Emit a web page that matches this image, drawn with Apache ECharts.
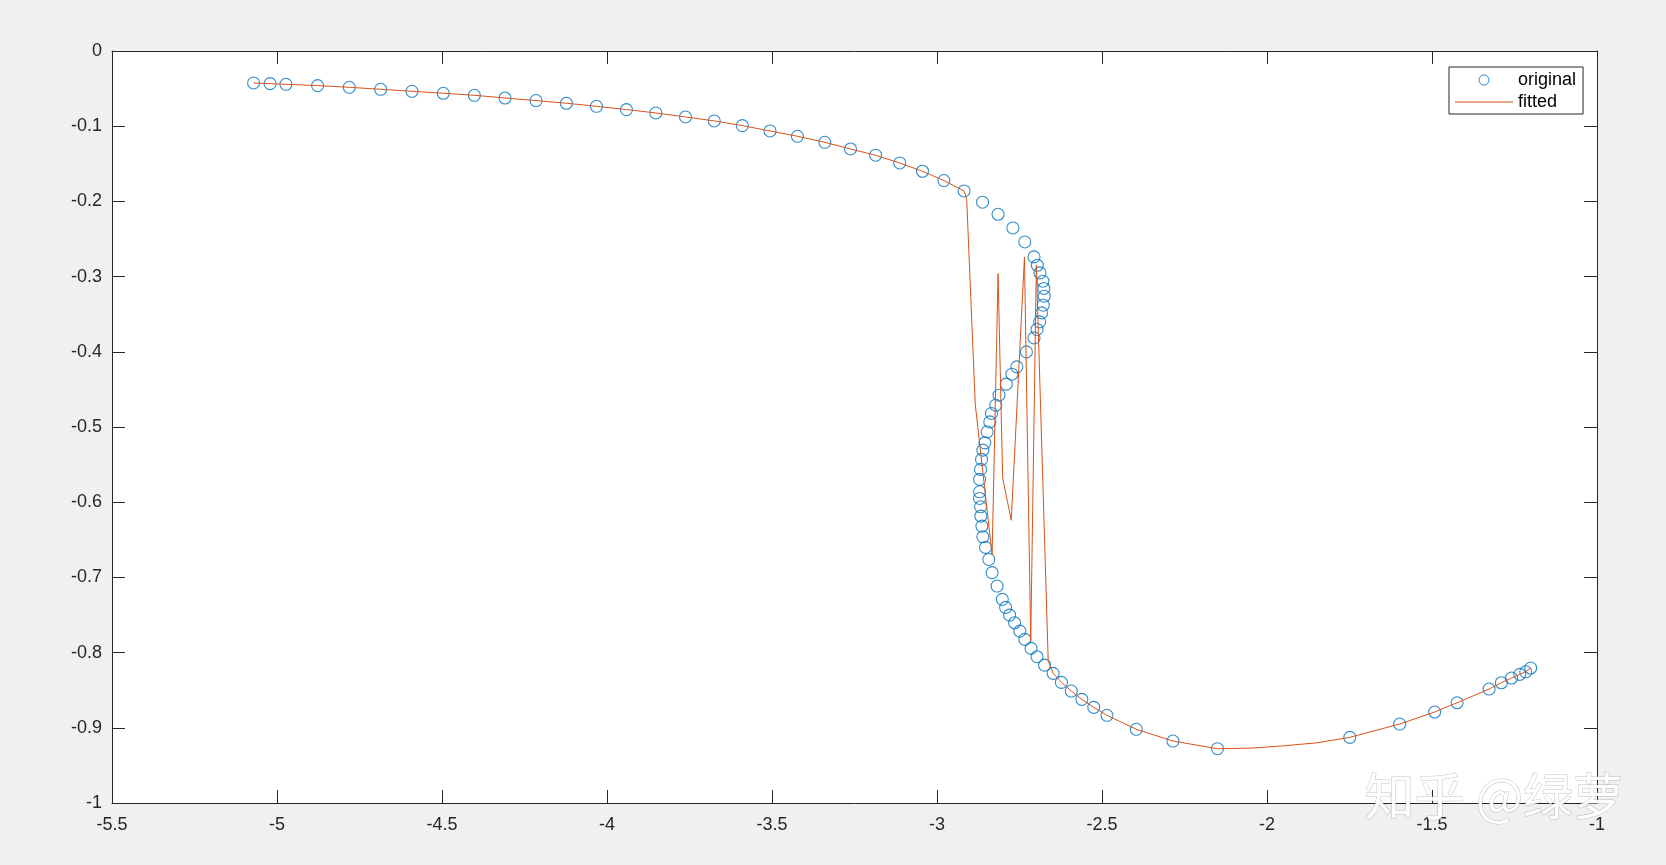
<!DOCTYPE html>
<html>
<head>
<meta charset="utf-8">
<script src="https://cdn.jsdelivr.net/npm/echarts@6/dist/echarts.min.js"></script>
<style>
  html, body { margin: 0; padding: 0; background: #f0f0f0; }
  #main { width: 1666px; height: 865px; }
</style>
</head>
<body>
<div id="main"></div>
<script>
// original points (in the order they were measured along the curve)
var origX = [-5.071, -5.021, -4.973, -4.877, -4.781, -4.686, -4.591, -4.496, -4.402, -4.309,
  -4.215, -4.123, -4.032, -3.941, -3.852, -3.762, -3.675, -3.590, -3.506, -3.423,
  -3.340, -3.262, -3.186, -3.113, -3.044, -2.979, -2.918, -2.862, -2.815, -2.770,
  -2.734, -2.706, -2.696, -2.688, -2.679, -2.676, -2.675, -2.678, -2.683, -2.689,
  -2.697, -2.706, -2.729, -2.758, -2.773, -2.790, -2.812, -2.822, -2.835, -2.840,
  -2.848, -2.855, -2.861, -2.865, -2.868, -2.871, -2.871, -2.871, -2.868, -2.867,
  -2.864, -2.861, -2.853, -2.843, -2.833, -2.818, -2.802, -2.792, -2.780, -2.765,
  -2.749, -2.734, -2.715, -2.697, -2.674, -2.648, -2.623, -2.593, -2.561, -2.525,
  -2.485, -2.396, -2.285, -2.150, -1.749, -1.598, -1.492, -1.424, -1.327, -1.290,
  -1.259, -1.234, -1.216, -1.201];
var origY = [-0.0425, -0.0434, -0.0443, -0.0460, -0.0483, -0.0509, -0.0536, -0.0562, -0.0589, -0.0625,
  -0.0659, -0.0695, -0.0735, -0.0779, -0.0824, -0.0877, -0.0930, -0.0992, -0.1063, -0.1134,
  -0.1214, -0.1303, -0.1386, -0.1489, -0.1599, -0.1723, -0.1861, -0.2011, -0.2171, -0.2353,
  -0.2539, -0.2738, -0.2849, -0.2951, -0.3061, -0.3158, -0.3261, -0.3380, -0.3483, -0.3602,
  -0.3703, -0.3815, -0.4001, -0.4200, -0.4298, -0.4430, -0.4577, -0.4710, -0.4820, -0.4932,
  -0.5064, -0.5211, -0.5308, -0.5431, -0.5564, -0.5697, -0.5862, -0.5950, -0.6061, -0.6185,
  -0.6318, -0.6460, -0.6601, -0.6761, -0.6936, -0.7115, -0.7292, -0.7399, -0.7501, -0.7603,
  -0.7714, -0.7824, -0.7944, -0.8055, -0.8166, -0.8276, -0.8396, -0.8511, -0.8622, -0.8728,
  -0.8834, -0.9020, -0.9176, -0.9278, -0.9127, -0.8950, -0.8790, -0.8667, -0.8485, -0.8401,
  -0.8338, -0.8289, -0.8255, -0.8205];

// fitted curve vertices
var fitX = [-5.071, -5.021, -4.973, -4.877, -4.781, -4.686, -4.591, -4.496, -4.402, -4.309,
  -4.215, -4.123, -4.032, -3.941, -3.852, -3.762, -3.675, -3.590, -3.506, -3.423,
  -3.340, -3.262, -3.186, -3.113, -3.044, -2.979, -2.918, -2.910, -2.884, -2.833,
  -2.815, -2.801, -2.775, -2.735, -2.716, -2.699, -2.663, -2.648, -2.623, -2.593,
  -2.561, -2.525, -2.485, -2.396, -2.285, -2.150, -2.050, -1.950, -1.850, -1.749,
  -1.598, -1.492, -1.424, -1.327, -1.290, -1.259, -1.234, -1.216, -1.201];
var fitY = [-0.0425, -0.0434, -0.0443, -0.0460, -0.0483, -0.0509, -0.0536, -0.0562, -0.0589, -0.0625,
  -0.0659, -0.0695, -0.0735, -0.0779, -0.0824, -0.0877, -0.0930, -0.0992, -0.1063, -0.1134,
  -0.1214, -0.1303, -0.1386, -0.1489, -0.1599, -0.1723, -0.1861, -0.1970, -0.4700, -0.6700,
  -0.2960, -0.5680, -0.6240, -0.2740, -0.7850, -0.2850, -0.8110, -0.8276, -0.8396, -0.8511,
  -0.8622, -0.8728, -0.8834, -0.9020, -0.9176, -0.9278, -0.9270, -0.9240, -0.9200, -0.9127,
  -0.8950, -0.8790, -0.8667, -0.8485, -0.8401, -0.8338, -0.8289, -0.8255, -0.8205];

var seriesNames = ["original", "fitted"];

function zip(xs, ys) {
  var res = [];
  for (var i = 0; i < xs.length; i++) {
    res.push([xs[i], ys[i]]);
  }
  return res;
}

var axisColor = "#262626";
var font = "'Liberation Sans', Arial, sans-serif";
var blue = "#0072BD";
var orange = "#D95319";

function xAxisOf(pos, showLabel) {
  return {
    type: "value",
    position: pos,
    min: -5.5,
    max: -1,
    interval: 0.5,
    splitLine: { show: false },
    axisLine: { show: true, onZero: false, lineStyle: { color: axisColor, width: 1 } },
    axisTick: { show: true, inside: true, length: 13, lineStyle: { color: axisColor } },
    axisLabel: { show: showLabel, margin: 13, color: axisColor, fontSize: 18, fontFamily: font },
  };
}

function yAxisOf(pos, showLabel) {
  return {
    type: "value",
    position: pos,
    min: -1,
    max: 0,
    interval: 0.1,
    splitLine: { show: false },
    axisLine: { show: true, onZero: false, lineStyle: { color: axisColor, width: 1 } },
    axisTick: { show: true, inside: true, length: 13, lineStyle: { color: axisColor } },
    axisLabel: { show: showLabel, margin: 10, color: axisColor, fontSize: 18, fontFamily: font },
  };
}

var chart = echarts.init(document.getElementById("main"));
chart.setOption({
  animation: false,
  backgroundColor: "#f0f0f0",
  grid: {
    show: true,
    left: 112,
    right: 69,
    top: 51,
    bottom: 62,
    backgroundColor: "#ffffff",
    borderWidth: 0,
    containLabel: false,
  },
  legend: {
    orient: "vertical",
    left: 1449,
    top: 67,
    padding: [4, 7, 3, 6],
    itemGap: 4,
    itemWidth: 58,
    itemHeight: 10,
    backgroundColor: "#ffffff",
    borderColor: axisColor,
    borderWidth: 1,
    borderRadius: 0,
    textStyle: { color: "#000", fontSize: 18, lineHeight: 18, fontFamily: font },
    data: [
      {
        name: seriesNames[0],
        icon: "circle",
        itemStyle: { color: "rgba(0,0,0,0)", borderColor: blue, borderWidth: 1 },
      },
      {
        // plain line, no marker
        name: seriesNames[1],
        icon: "path://M0,0L0.01,0L0,0.01Z M0,4.5L58,4.5L58,5.5L0,5.5Z M57.99,10L58,10L58,9.99Z",
        itemStyle: { color: orange, borderWidth: 0 },
      },
    ],
  },
  xAxis: [xAxisOf("bottom", true), xAxisOf("top", false)],
  yAxis: [yAxisOf("left", true), yAxisOf("right", false)],
  series: [
    {
      name: seriesNames[0],
      type: "scatter",
      xAxisIndex: 0,
      yAxisIndex: 0,
      symbol: "circle",
      symbolSize: 12,
      itemStyle: { color: "rgba(0,0,0,0)", borderColor: blue, borderWidth: 1.1 },
      emphasis: { disabled: true },
      z: 2,
      data: zip(origX, origY),
    },
    {
      name: seriesNames[1],
      type: "line",
      xAxisIndex: 0,
      yAxisIndex: 0,
      symbol: "none",
      smooth: false,
      lineStyle: { color: orange, width: 1 },
      itemStyle: { color: orange },
      emphasis: { disabled: true },
      z: 3,
      data: zip(fitX, fitY),
    },
  ],
  graphic: [
    {
      type: "text",
      left: 1364,
      top: 770,
      z: 100,
      style: {
        text: "知乎 @绿萝",
        fontSize: 50,
        fontFamily: "'Noto Sans CJK SC', sans-serif",
        fill: "rgba(255,255,255,0.92)",
        stroke: "rgba(110,110,110,0.4)",
        lineWidth: 1,
        shadowColor: "rgba(0,0,0,0.4)",
        shadowBlur: 4,
        shadowOffsetX: 1,
        shadowOffsetY: 1,
      },
    },
  ],
});
</script>
</body>
</html>
